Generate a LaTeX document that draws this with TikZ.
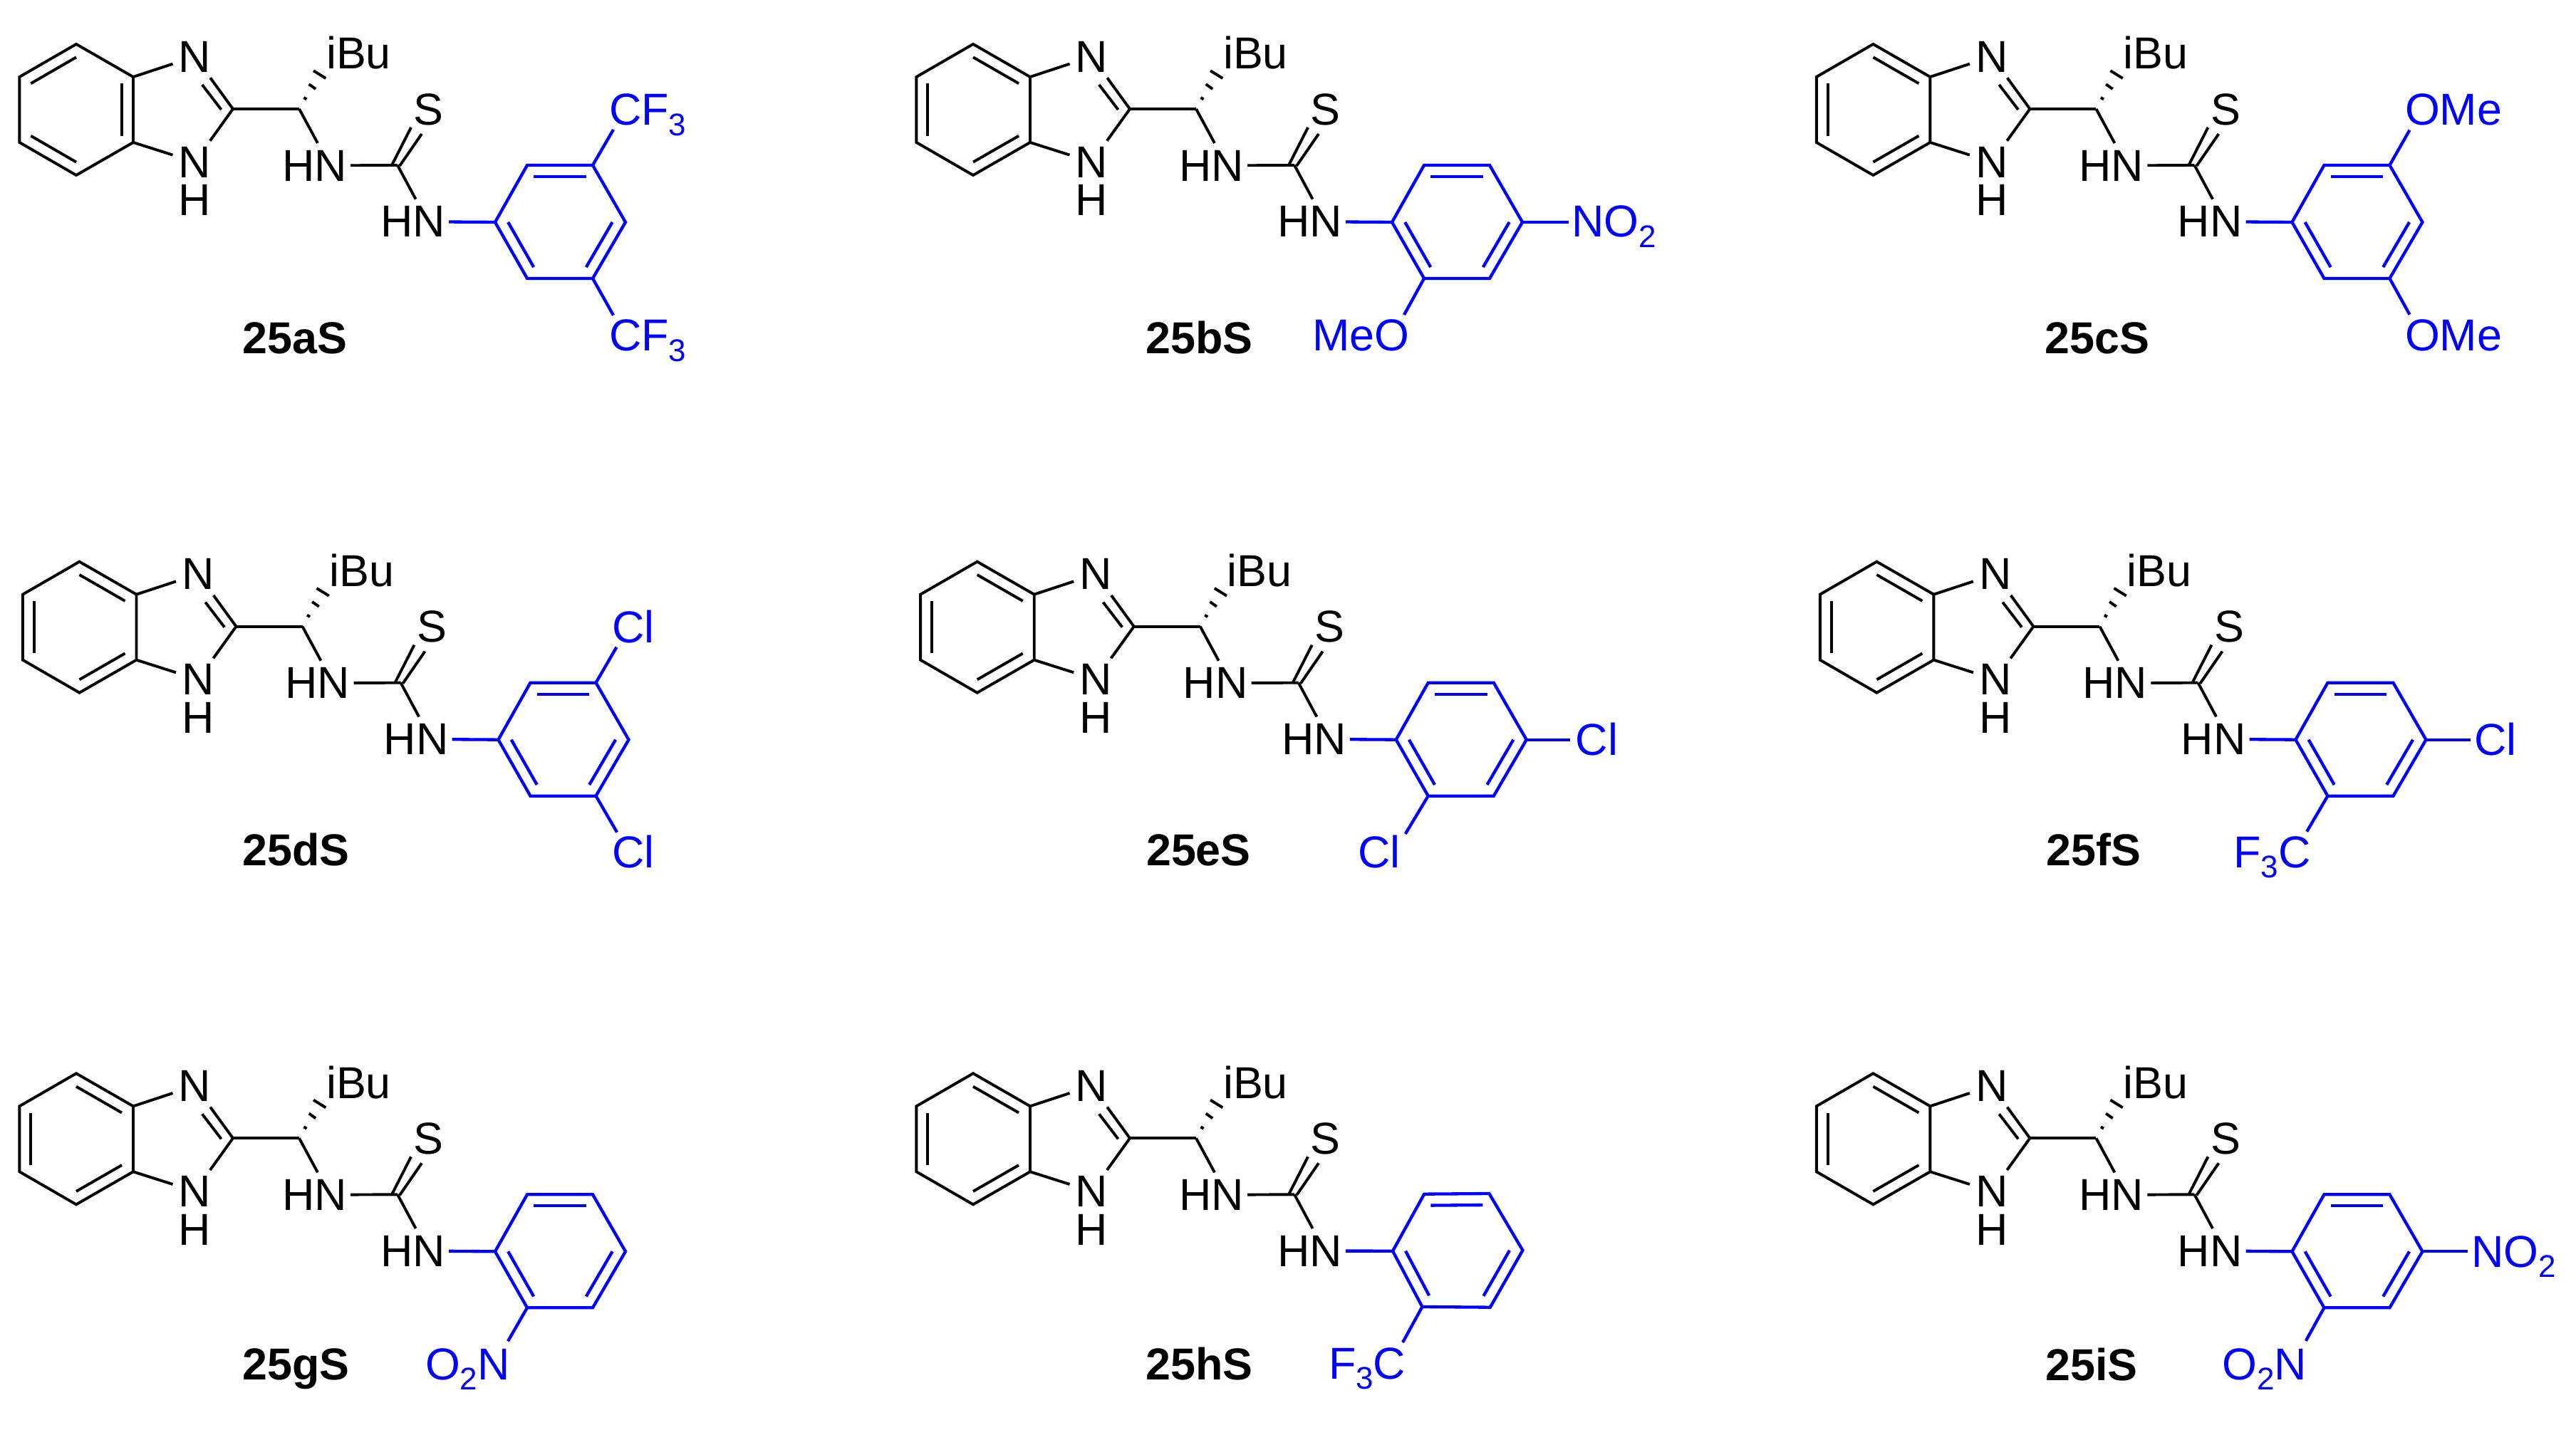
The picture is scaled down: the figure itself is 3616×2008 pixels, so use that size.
\documentclass[tikz,border=0pt]{standalone}
\usepackage{fontspec}
\setmainfont{Liberation Sans}
\usetikzlibrary{calc}
\definecolor{rblue}{RGB}{0,0,255}
\newcommand\sbs[1]{\raisebox{-3.6pt}[0pt][0pt]{\fontsize{11pt}{11pt}\selectfont #1}}
\tikzset{
  bk/.style={draw=black,line width=0.98pt,line join=miter},
  bl/.style={draw=rblue,line width=1.08pt,line join=miter},
  afont/.style={font=\fontsize{15.7pt}{18pt}\selectfont,inner sep=0pt,outer sep=0pt},
  atomN/.style={afont,minimum width=15.5pt,minimum height=14.9pt},
  atomHN/.style={afont,minimum width=25.25pt,minimum height=15.75pt},
  plain/.style={afont,anchor=base},
  sublab/.style={afont,anchor=base west,text=rblue},
  cname/.style={afont,anchor=base,font=\fontsize{15.7pt}{18pt}\selectfont\bfseries}
}
% core of one molecule; #1 = prefix
\newcommand\core[1]{%
  \coordinate (#1-B1) at (107,62);
  \coordinate (#1-B2) at (27.4,108);
  \coordinate (#1-B3) at (27.4,200);
  \coordinate (#1-B4) at (107,246);
  \coordinate (#1-B5) at (187,200);
  \coordinate (#1-B6) at (187,108);
  \coordinate (#1-BO) at (107,154);
  \coordinate (#1-C2) at (327,153);
  \coordinate (#1-CH) at (420,153);
  \coordinate (#1-CS) at (558,232);
  \node[atomN] (#1-N1) at (273.5,79.5) {N};
  \node[atomN] (#1-N3) at (273.5,227.5) {N};
  \node[plain] (#1-H3) at (273.5,302.7) {H};
  \node[plain] (#1-iBu) at (503.5,96.7) {iBu};
  \node[atomHN] (#1-HNa) at (441.5,232.5) {HN};
  \node[atomHN] (#1-HNb) at (579.7,311.2) {HN};
  \node[atomN] (#1-S) at (601.8,153.5) {S};
  \draw[bk] (#1-B1) -- (#1-B2) -- (#1-B3) -- (#1-B4) -- (#1-B5) -- (#1-B6) -- cycle;
  \draw[bk] (#1-B6) -- (#1-N1);
  \draw[bk] (#1-B5) -- (#1-N3);
  \draw[bk] (#1-C2) -- (#1-N1);
  \coordinate (#1-dA) at (310.6,154);
  \coordinate (#1-dB) at (283.8,119);
  \draw[bk] (#1-dA) -- (#1-dB);
  \draw[bk] (#1-C2) -- (#1-N3);
  \draw[bk] (#1-C2) -- (#1-CH);
  \draw[bk] (#1-CH) -- (#1-HNa.82);
  \draw[bk] (#1-HNa) -- (#1-CS);
  \draw[bk] (#1-CS) -- (#1-HNb.83);
  \coordinate (#1-sA) at (550,232);
  \coordinate (#1-sB) at (577,179);
  \coordinate (#1-sC) at (561,233);
  \coordinate (#1-sD) at (592,188);
  \draw[bk] (#1-sA) -- (#1-sB);
  \draw[bk] (#1-sC) -- (#1-sD);
  \draw[bk] (426.5,137) -- (430.5,139.5);
  \draw[bk] (433.7,118.3) -- (443.2,125);
  \draw[bk] (440,99.3) -- (457.3,110);
}
\newcommand\inner[4]{\draw[#4] ($(#1)!.2!(#3)$) -- ($(#2)!.2!(#3)$);}
\newcommand\stdbenz[1]{%
  \inner{#1-B2}{#1-B3}{#1-BO}{bk}
  \inner{#1-B1}{#1-B6}{#1-BO}{bk}
  \inner{#1-B4}{#1-B5}{#1-BO}{bk}}
\newcommand\altbenz[1]{%
  \inner{#1-B1}{#1-B2}{#1-BO}{bk}
  \inner{#1-B3}{#1-B4}{#1-BO}{bk}
  \inner{#1-B5}{#1-B6}{#1-BO}{bk}}
\newcommand\ringstd[1]{%
  \coordinate (#1-R1) at (695,312);
  \coordinate (#1-R2) at (740,232);
  \coordinate (#1-R3) at (832,232);
  \coordinate (#1-R4) at (878,312);
  \coordinate (#1-R5) at (832,391);
  \coordinate (#1-R6) at (740,391);
  \coordinate (#1-RO) at (786,312);}
\newcommand\ringdraw[1]{%
  \draw[bl] (#1-R1) -- (#1-R2) -- (#1-R3) -- (#1-R4) -- (#1-R5) -- (#1-R6) -- cycle;
  \draw[bl] (#1-HNb) -- (#1-R1);
  \inner{#1-R2}{#1-R3}{#1-RO}{bl}
  \inner{#1-R1}{#1-R6}{#1-RO}{bl}
  \inner{#1-R4}{#1-R5}{#1-RO}{bl}}
% #1 prefix, #2 label id, #3 ring atom, #4,#5 node position, #6,#7 bond end, #8 text
\newcommand\subst[8]{%
  \node[sublab] (#1-#2) at (#4,#5) {#8};
  \draw[bl] (#1-#3) -- ([shift={({#6-(#4)},{#7-(#5)})}]#1-#2.base west);}
\begin{document}
\begin{tikzpicture}[x=0.25pt,y=-0.25pt]
\useasboundingbox (0,0) rectangle (3616,2008);
% 25aS
\begin{scope}[shift={(0,0)}]
  \core{a}\altbenz{a}\ringstd{a}\ringdraw{a}
  \subst{a}{X1}{R3}{855}{176}{861}{182}{CF\sbs{3}}
  \subst{a}{X2}{R5}{855}{492.7}{861}{442.7}{CF\sbs{3}}
  \node[cname] (a-name) at (414,496.7) {25aS};
\end{scope}
% 25bS
\begin{scope}[shift={(1259,0)}]
  \core{b}\stdbenz{b}\ringstd{b}\ringdraw{b}
  \subst{b}{X1}{R4}{947}{333}{943}{312}{NO\sbs{2}}
  \subst{b}{X2}{R6}{583}{492.7}{712}{442}{MeO}
  \node[cname] (b-name) at (424.8,496.7) {25bS};
\end{scope}
% 25cS
\begin{scope}[shift={(2522.4,0)}]
  \core{c}\stdbenz{c}\ringstd{c}\ringdraw{c}
  \subst{c}{X1}{R3}{853.6}{176}{860}{182.7}{OMe}
  \subst{c}{X2}{R5}{853.6}{492.7}{860}{441.7}{OMe}
  \node[cname] (c-name) at (421.6,496.7) {25cS};
\end{scope}
% 25dS
\begin{scope}[shift={(4.5,726.7)}]
  \core{d}\stdbenz{d}\ringstd{d}\ringdraw{d}
  \subst{d}{X1}{R3}{854.7}{175.6}{861}{182}{Cl}
  \subst{d}{X2}{R5}{854.7}{491.6}{861.6}{442}{Cl}
  \node[cname] (d-name) at (411.3,489.3) {25dS};
\end{scope}
% 25eS
\begin{scope}[shift={(1264.7,726.7)}]
  \core{e}\stdbenz{e}\ringstd{e}\ringdraw{e}
  \subst{e}{X1}{R4}{947}{334}{939.3}{312}{Cl}
  \subst{e}{X2}{R6}{641.7}{491.6}{708}{444.3}{Cl}
  \node[cname] (e-name) at (417.7,489.3) {25eS};
\end{scope}
% 25fS
\begin{scope}[shift={(2527.4,726.7)}]
  \core{f}\stdbenz{f}\ringstd{f}\ringdraw{f}
  \subst{f}{X1}{R4}{946}{334}{940.6}{312}{Cl}
  \subst{f}{X2}{R6}{608}{491.6}{710.7}{441}{F\sbs{3}C}
  \node[cname] (f-name) at (411.4,489.3) {25fS};
\end{scope}
% 25gS
\begin{scope}[shift={(0,1445.3)}]
  \core{g}\stdbenz{g}\ringstd{g}\ringdraw{g}
  \subst{g}{X2}{R6}{597}{492}{713}{438}{O\sbs{2}N}
  \node[cname] (g-name) at (415.7,492.4) {25gS};
\end{scope}
% 25hS
\begin{scope}[shift={(1259,1445.3)}]
  \core{h}\stdbenz{h}
  \coordinate (h-R1) at (696,311.4);
  \coordinate (h-R2) at (740.2,231.4);
  \coordinate (h-R3) at (831.4,230.7);
  \coordinate (h-R4) at (878.4,310.4);
  \coordinate (h-R5) at (832.8,390.4);
  \coordinate (h-R6) at (737.4,389.7);
  \coordinate (h-RO) at (786,311);
  \ringdraw{h}
  \subst{h}{X2}{R6}{606}{490.7}{710}{439.7}{F\sbs{3}C}
  \node[cname] (h-name) at (424.8,492.4) {25hS};
\end{scope}
% 25iS
\begin{scope}[shift={(2522.4,1445.3)}]
  \core{i}\stdbenz{i}\ringstd{i}\ringdraw{i}
  \subst{i}{X1}{R4}{947}{333.8}{942}{312}{NO\sbs{2}}
  \subst{i}{X2}{R6}{597}{491.8}{714.3}{437.6}{O\sbs{2}N}
  \node[cname] (i-name) at (413.5,492.9) {25iS};
\end{scope}
\end{tikzpicture}
\end{document}
